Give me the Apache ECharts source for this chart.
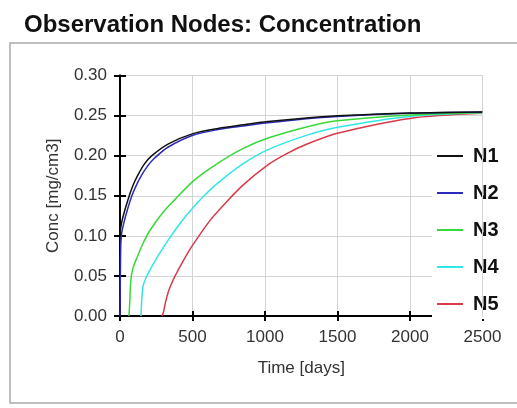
<!DOCTYPE html>
<html>
<head>
<meta charset="utf-8">
<script src="https://cdn.jsdelivr.net/npm/echarts@6/dist/echarts.min.js"></script>
<style>
  html, body { margin: 0; padding: 0; background: #fff; }
  #chart { width: 517px; height: 408px; }
</style>
</head>
<body>
<div id="chart"></div>
<script>
// observation node curves, [time (days), conc (mg/cm3)]
const seriesNames = ['N1', 'N2', 'N3', 'N4', 'N5'];
const n1 = [[0,0.100],[5,0.110],[18,0.122],[55,0.145],[90,0.163],[124,0.176],[170,0.190],[216,0.1995],[331,0.2145],[503,0.2275],[676,0.234],[850,0.2385],[1021,0.2425],[1250,0.2465],[1500,0.2497],[2000,0.2532],[2500,0.2545]];
const n2 = [[0,0],[3,0.060],[6,0.092],[12,0.104],[25,0.115],[50,0.132],[80,0.149],[110,0.162],[147,0.175],[190,0.187],[239,0.197],[330,0.2105],[503,0.2255],[676,0.2325],[850,0.237],[1021,0.241],[1250,0.2455],[1500,0.249],[2000,0.2528],[2500,0.2545]];
const n3 = [[62,0],[68,0.020],[75,0.045],[90,0.060],[120,0.074],[160,0.091],[207,0.107],[300,0.130],[380,0.1455],[503,0.168],[676,0.1906],[850,0.209],[1021,0.222],[1300,0.2365],[1500,0.2435],[2000,0.2508],[2500,0.254]];
const n4 = [[145,0],[150,0.020],[160,0.038],[180,0.048],[200,0.055],[240,0.068],[276,0.079],[345,0.098],[420,0.117],[500,0.1345],[575,0.149],[676,0.166],[850,0.190],[1021,0.2075],[1290,0.2256],[1500,0.2355],[2000,0.249],[2500,0.2535]];
const n5 = [[290,0],[300,0.005],[315,0.018],[333,0.030],[350,0.038],[380,0.050],[440,0.070],[500,0.088],[620,0.119],[720,0.1395],[850,0.1635],[1020,0.1885],[1150,0.2025],[1290,0.2145],[1500,0.228],[2000,0.2465],[2500,0.2528]];
const lineColors = ['#111111', '#2b2bbb', '#38d838', '#33e6e6', '#d83a48'];

const chart = echarts.init(document.getElementById('chart'));

const axisFont = { color: '#333', fontSize: 17, fontFamily: 'Liberation Sans' };
const blackLine = { lineStyle: { color: '#000', width: 2 } };
const gridColor = '#d4d4d4';

chart.setOption({
  backgroundColor: '#fff',
  animation: false,
  title: {
    text: 'Observation Nodes: Concentration',
    left: 19,
    top: 8,
    textStyle: { fontFamily: 'Liberation Sans', fontWeight: 'bold', fontSize: 24, color: '#111' },
  },
  graphic: [{
    type: 'rect',
    shape: { x: 10, y: 43, width: 530, height: 360 },
    style: { fill: 'none', stroke: '#aaa', lineWidth: 1.5 },
    z: -1,
  }],
  legend: {
    orient: 'vertical',
    left: 432,
    top: 141,
    padding: [5, 30, 5, 5],
    backgroundColor: '#fff',
    icon: 'rect',
    itemWidth: 26,
    itemHeight: 2,
    itemGap: 17,
    textStyle: { fontFamily: 'Liberation Sans', fontWeight: 'bold', fontSize: 20, lineHeight: 20, color: '#111', padding: [0, 0, 0, 5] },
    data: seriesNames,
  },
  grid: { left: 120, right: 34.5, top: 75.5, bottom: 92 },
  xAxis: [{
    type: 'value', min: 0, max: 2500, interval: 500,
    name: 'Time [days]', nameLocation: 'middle', nameGap: 44,
    nameTextStyle: axisFont,
    axisLine: blackLine,
    axisTick: { length: 5, lineStyle: { color: '#000', width: 2 } },
    axisLabel: Object.assign({ margin: 13, formatter: v => String(v) }, axisFont),
    splitLine: { lineStyle: { color: gridColor, width: 1 } },
  }, {
    type: 'value', min: 0, max: 2500, interval: 500, position: 'bottom',
    axisLine: blackLine,
    axisTick: { inside: true, length: 5, lineStyle: { color: '#000', width: 2 } },
    axisLabel: { show: false }, splitLine: { show: false },
  }],
  yAxis: [{
    type: 'value', min: 0, max: 0.3, interval: 0.05,
    name: 'Conc [mg/cm3]', nameLocation: 'middle', nameGap: 58,
    nameTextStyle: axisFont,
    axisLine: { show: true, lineStyle: { color: '#000', width: 2 } },
    axisTick: { show: true, length: 6, lineStyle: { color: '#000', width: 2 } },
    axisLabel: Object.assign({ margin: 13, formatter: v => v.toFixed(2) }, axisFont),
    splitLine: { lineStyle: { color: gridColor, width: 1 } },
  }, {
    type: 'value', min: 0, max: 0.3, interval: 0.05, position: 'left',
    axisLine: { show: true, lineStyle: { color: '#000', width: 2 } },
    axisTick: { show: true, inside: true, length: 6, lineStyle: { color: '#000', width: 2 } },
    axisLabel: { show: false }, splitLine: { show: false },
  }, {
    // right border of the plot, kept above the legend box
    type: 'value', min: 0, max: 0.3, position: 'right', z: 10,
    axisLine: { show: true, lineStyle: { color: gridColor, width: 1 } },
    axisTick: { show: false }, axisLabel: { show: false }, splitLine: { show: false },
  }],
  series: [n1, n2, n3, n4, n5].map((d, i) => ({
    name: seriesNames[i],
    type: 'line',
    data: d,
    smooth: 0.3,
    showSymbol: false,
    color: lineColors[i],
    lineStyle: { width: 1.5, color: lineColors[i] },
    z: 10 - i,
  })),
});
</script>
</body>
</html>
